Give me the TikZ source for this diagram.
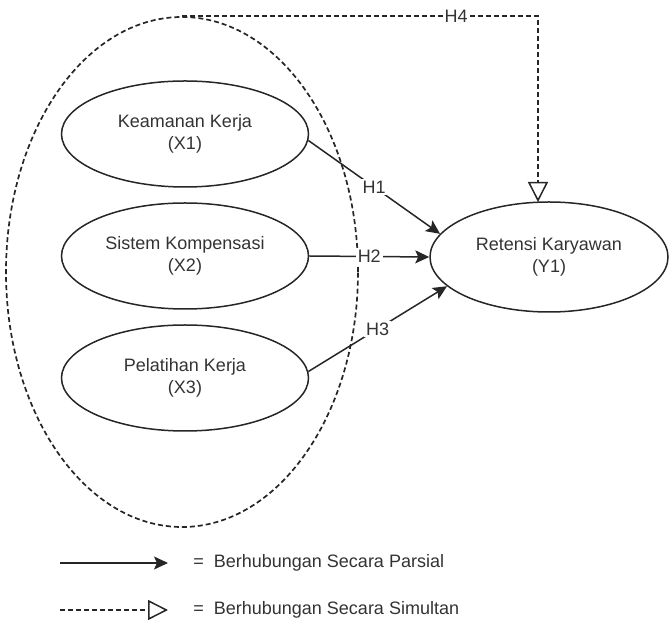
\documentclass[tikz,border=0pt]{standalone}
\usepackage{fontspec}
\setmainfont{Liberation Sans}
\usetikzlibrary{shapes.geometric,arrows.meta}
\begin{document}
\begin{tikzpicture}[x=0.5pt,y=-0.5pt,
    font=\fontsize{9}{11}\selectfont,
    every node/.style={text=black!80},
    var/.style={draw=black!85,line width=0.75pt,ellipse,align=center,
      minimum width=123.5pt,minimum height=53pt},
    hyp/.style={fill=white,inner sep=1pt},
    dsh/.style={line width=0.85pt,dash pattern=on 2.5pt off 1.5pt},
    part/.style={draw=black!85,line width=0.75pt,-{Stealth[length=7pt,width=6.5pt,inset=1.5pt]}},
    simul/.style={draw=black!85,dsh,-{Triangle[open,length=10pt,width=10pt,line width=0.75pt,sep=0pt]}}]
      \useasboundingbox (0,0) rectangle (669,624);
      \node[draw=black!85,dsh,ellipse,minimum width=176pt,minimum height=255pt] (grp) at (182,272) {};
      \node[var] (x1) at (185,134) {Keamanan Kerja\\(X1)};
      \node[var] (x2) at (185,256) {Sistem Kompensasi\\(X2)};
      \node[var] (x3) at (185,378) {Pelatihan Kerja\\(X3)};
      \node[var,minimum width=119pt,minimum height=55pt] (y1) at (549,257) {Retensi Karyawan\\(Y1)};
      \coordinate (h4end) at (538,202);
      \begin{scope}
        \draw[part] (x1.-3) to node[hyp]{H1} (y1.168);
        \draw[part] (x2.east) to node[hyp]{H2} (y1.west);
        \draw[part] (x3.3) to node[hyp]{H3} (y1.196);
        \draw[simul] (grp.north) -| node[hyp,pos=0.385]{H4} (h4end);
      \end{scope}
      % keterangan
      \coordinate (a1) at (60,563);
      \coordinate (a2) at (168,563);
      \coordinate (b1) at (60,610);
      \coordinate (b2) at (168,610);
      \node[anchor=west,inner sep=0pt] (lp) at (193,563) {= \ Berhubungan Secara Parsial};
      \node[anchor=west,inner sep=0pt] (ls) at (193,610) {= \ Berhubungan Secara Simultan};
      \draw[part] (a1) -- (a2);
      \draw[simul] (b1) -- (b2);
    \end{tikzpicture}
\end{document}
